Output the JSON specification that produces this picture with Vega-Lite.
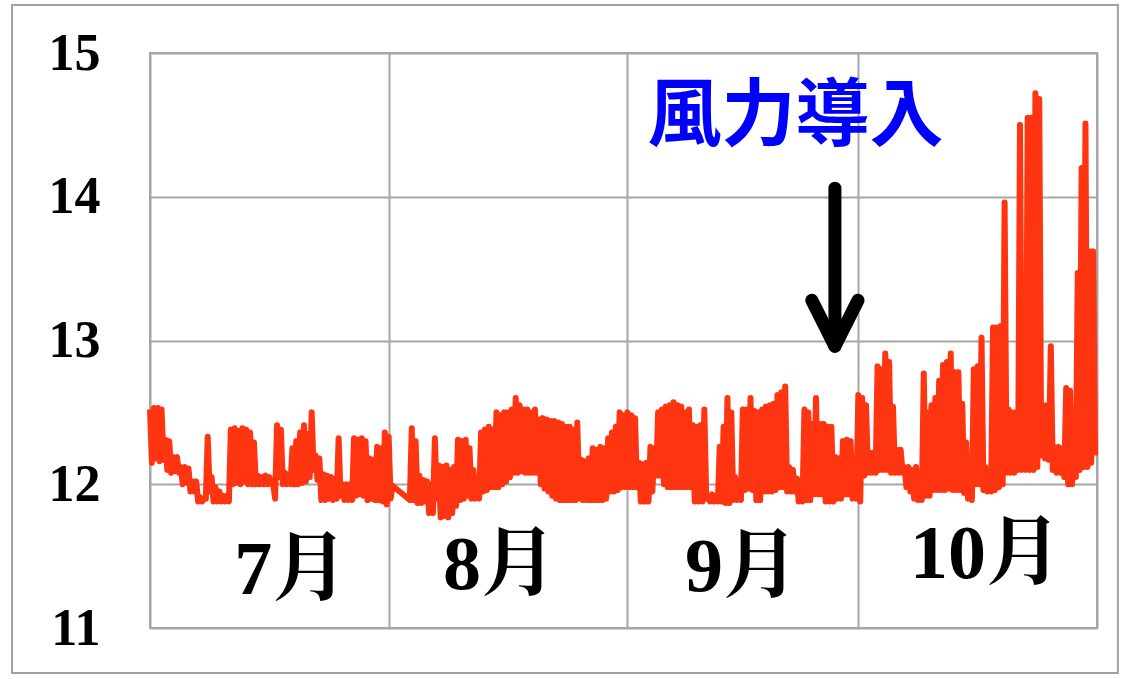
{
"$schema": "https://vega.github.io/schema/vega-lite/v6.json",
"width": 947, "height": 575,
"autosize": "none",
"padding": {"left": 150, "top": 53, "right": 31, "bottom": 51},
"background": "white",
"config": {"view": {"stroke": "#a6a6a6", "strokeWidth": 2}, "axis": {"gridColor": "#a6a6a6", "gridWidth": 2, "gridOpacity": 1}},
"encoding": {
"x": {"field": "h", "type": "quantitative", "scale": {"domain": [0, 2952], "nice": false, "zero": false},
"axis": {"values": [0, 744, 1488, 2208, 2952], "grid": true, "labels": false, "ticks": false, "domain": false, "title": null}},
"y": {"field": "v", "type": "quantitative", "scale": {"domain": [11, 15], "nice": false, "zero": false},
"axis": {"values": [11, 12, 13, 14, 15], "grid": true, "ticks": false, "domain": false, "title": null,
"labelFont": "Liberation Serif", "labelFontSize": 52, "labelFontWeight": "bold", "labelColor": "#000000", "labelPadding": 50}}
},
"layer": [
{
"data": {"values": [{"h": -430, "h2": 3017, "v": 15.334, "v2": 10.687}]},
"mark": {"type": "rect", "fill": null, "stroke": "#a0a0a0", "strokeWidth": 2, "clip": false},
"encoding": {
"x2": {"field": "h2"},
"y2": {"field": "v2"}
}
},
{
"data": {"values": [
{"h":0,"v":12.52},{"h":6,"v":12.15},{"h":12,"v":12.53},{"h":18,"v":12.18},{"h":24,"v":12.53},{"h":30,"v":12.16},{"h":36,"v":12.52},{"h":42,"v":12.17},
{"h":48,"v":12.31},{"h":54,"v":12.1},{"h":60,"v":12.3},{"h":66,"v":12.08},{"h":72,"v":12.19},{"h":78,"v":12.09},{"h":84,"v":12.19},{"h":90,"v":12.08},
{"h":96,"v":12.12},{"h":102,"v":12.0},{"h":108,"v":12.12},{"h":114,"v":12.01},{"h":120,"v":12.11},{"h":126,"v":11.95},{"h":132,"v":12.02},{"h":138,"v":11.95},
{"h":144,"v":12.02},{"h":150,"v":11.88},{"h":156,"v":11.91},{"h":162,"v":11.88},{"h":168,"v":11.9},{"h":174,"v":11.9},{"h":180,"v":12.33},{"h":186,"v":11.95},
{"h":192,"v":12.05},{"h":198,"v":11.88},{"h":204,"v":11.98},{"h":210,"v":11.88},{"h":216,"v":11.95},{"h":222,"v":11.88},{"h":228,"v":11.92},{"h":234,"v":11.88},
{"h":240,"v":11.92},{"h":246,"v":11.88},{"h":252,"v":12.38},{"h":258,"v":12.0},{"h":264,"v":12.39},{"h":270,"v":12.01},{"h":276,"v":12.37},{"h":282,"v":12.0},
{"h":288,"v":12.39},{"h":294,"v":12.02},{"h":300,"v":12.38},{"h":306,"v":12.0},{"h":312,"v":12.36},{"h":318,"v":12.0},{"h":324,"v":12.29},{"h":330,"v":12.0},
{"h":336,"v":12.06},{"h":342,"v":12.0},{"h":348,"v":12.05},{"h":354,"v":12.0},{"h":360,"v":12.06},{"h":366,"v":12.0},{"h":372,"v":12.05},{"h":378,"v":12.0},
{"h":384,"v":12.0},{"h":390,"v":11.9},{"h":396,"v":12.41},{"h":402,"v":12.05},{"h":408,"v":12.38},{"h":414,"v":12.0},{"h":420,"v":12.08},{"h":426,"v":12.0},
{"h":432,"v":12.07},{"h":438,"v":12.0},{"h":444,"v":12.25},{"h":450,"v":12.0},{"h":456,"v":12.3},{"h":462,"v":12.0},{"h":468,"v":12.36},{"h":474,"v":12.01},
{"h":480,"v":12.41},{"h":486,"v":12.02},{"h":492,"v":12.35},{"h":498,"v":12.05},{"h":504,"v":12.5},{"h":510,"v":12.1},{"h":516,"v":12.2},{"h":522,"v":12.03},
{"h":528,"v":12.18},{"h":534,"v":11.89},{"h":540,"v":12.07},{"h":546,"v":11.89},{"h":552,"v":12.06},{"h":558,"v":11.9},{"h":564,"v":12.05},{"h":570,"v":11.89},
{"h":576,"v":12.04},{"h":582,"v":11.9},{"h":588,"v":12.32},{"h":594,"v":11.92},{"h":600,"v":12.0},{"h":606,"v":11.89},{"h":612,"v":12.0},{"h":618,"v":11.89},
{"h":624,"v":12.0},{"h":630,"v":11.89},{"h":636,"v":12.32},{"h":642,"v":11.92},{"h":648,"v":12.31},{"h":654,"v":11.93},{"h":660,"v":12.32},{"h":666,"v":11.92},
{"h":672,"v":12.3},{"h":678,"v":11.89},{"h":684,"v":12.18},{"h":690,"v":11.9},{"h":696,"v":12.17},{"h":702,"v":11.89},{"h":708,"v":12.26},{"h":714,"v":11.89},
{"h":720,"v":12.25},{"h":726,"v":11.88},{"h":732,"v":12.36},{"h":738,"v":11.86},{"h":744,"v":12.33},{"h":750,"v":11.9},{"h":756,"v":11.99},{"h":810,"v":11.89},
{"h":816,"v":12.39},{"h":822,"v":11.89},{"h":828,"v":12.3},{"h":834,"v":11.87},{"h":840,"v":12.06},{"h":846,"v":11.87},{"h":852,"v":12.03},{"h":858,"v":11.88},
{"h":864,"v":12.02},{"h":870,"v":11.8},{"h":876,"v":12.0},{"h":882,"v":11.8},{"h":888,"v":12.32},{"h":894,"v":11.9},{"h":900,"v":12.13},{"h":906,"v":11.77},
{"h":912,"v":12.12},{"h":918,"v":11.78},{"h":924,"v":12.13},{"h":930,"v":11.77},{"h":936,"v":12.1},{"h":942,"v":11.8},{"h":948,"v":12.12},{"h":954,"v":11.85},
{"h":960,"v":12.31},{"h":966,"v":11.89},{"h":972,"v":12.3},{"h":978,"v":11.9},{"h":984,"v":12.31},{"h":990,"v":11.92},{"h":996,"v":12.25},{"h":1002,"v":11.9},
{"h":1008,"v":12.1},{"h":1014,"v":11.9},{"h":1020,"v":11.93},{"h":1026,"v":11.9},{"h":1032,"v":12.36},{"h":1038,"v":11.95},{"h":1044,"v":12.38},{"h":1050,"v":11.96},
{"h":1056,"v":12.4},{"h":1062,"v":11.98},{"h":1068,"v":12.38},{"h":1074,"v":11.98},{"h":1080,"v":12.5},{"h":1086,"v":11.98},{"h":1092,"v":12.48},{"h":1098,"v":12.0},
{"h":1104,"v":12.5},{"h":1110,"v":12.02},{"h":1116,"v":12.5},{"h":1122,"v":12.05},{"h":1128,"v":12.52},{"h":1134,"v":12.08},{"h":1140,"v":12.6},{"h":1146,"v":12.08},
{"h":1152,"v":12.55},{"h":1158,"v":12.09},{"h":1164,"v":12.52},{"h":1170,"v":12.08},{"h":1176,"v":12.52},{"h":1182,"v":12.08},{"h":1188,"v":12.5},{"h":1194,"v":12.08},
{"h":1200,"v":12.52},{"h":1206,"v":12.08},{"h":1212,"v":12.45},{"h":1218,"v":12.0},{"h":1224,"v":12.46},{"h":1230,"v":11.97},{"h":1236,"v":12.45},{"h":1242,"v":11.95},
{"h":1248,"v":12.44},{"h":1254,"v":11.92},{"h":1260,"v":12.44},{"h":1266,"v":11.9},{"h":1272,"v":12.43},{"h":1278,"v":11.89},{"h":1284,"v":12.42},{"h":1290,"v":11.89},
{"h":1296,"v":12.4},{"h":1302,"v":11.89},{"h":1308,"v":12.4},{"h":1314,"v":11.89},{"h":1320,"v":12.38},{"h":1326,"v":11.89},{"h":1332,"v":12.43},{"h":1338,"v":11.9},
{"h":1344,"v":12.17},{"h":1350,"v":11.89},{"h":1356,"v":12.16},{"h":1362,"v":11.89},{"h":1368,"v":12.18},{"h":1374,"v":11.89},{"h":1380,"v":12.25},{"h":1386,"v":11.89},
{"h":1392,"v":12.24},{"h":1398,"v":11.89},{"h":1404,"v":12.26},{"h":1410,"v":11.89},{"h":1416,"v":12.25},{"h":1422,"v":11.9},{"h":1428,"v":12.32},{"h":1434,"v":11.95},
{"h":1440,"v":12.36},{"h":1446,"v":11.95},{"h":1452,"v":12.4},{"h":1458,"v":11.96},{"h":1464,"v":12.5},{"h":1470,"v":11.98},{"h":1476,"v":12.48},{"h":1482,"v":11.98},
{"h":1488,"v":12.5},{"h":1494,"v":11.98},{"h":1500,"v":12.48},{"h":1506,"v":11.98},{"h":1512,"v":12.46},{"h":1518,"v":11.98},{"h":1524,"v":12.15},{"h":1530,"v":11.88},
{"h":1536,"v":12.14},{"h":1542,"v":11.88},{"h":1548,"v":12.15},{"h":1554,"v":11.88},{"h":1560,"v":12.26},{"h":1566,"v":11.95},{"h":1572,"v":12.25},{"h":1578,"v":12.06},
{"h":1584,"v":12.5},{"h":1590,"v":12.06},{"h":1596,"v":12.52},{"h":1602,"v":12.0},{"h":1608,"v":12.54},{"h":1614,"v":11.98},{"h":1620,"v":12.55},{"h":1626,"v":11.98},
{"h":1632,"v":12.57},{"h":1638,"v":11.98},{"h":1644,"v":12.55},{"h":1650,"v":11.98},{"h":1656,"v":12.54},{"h":1662,"v":11.98},{"h":1668,"v":12.5},{"h":1674,"v":11.98},
{"h":1680,"v":12.52},{"h":1686,"v":11.98},{"h":1692,"v":12.41},{"h":1698,"v":11.88},{"h":1704,"v":12.4},{"h":1710,"v":11.88},{"h":1716,"v":12.41},{"h":1722,"v":11.88},
{"h":1728,"v":12.52},{"h":1734,"v":11.9},{"h":1740,"v":11.92},{"h":1746,"v":11.88},{"h":1752,"v":11.93},{"h":1758,"v":11.88},{"h":1764,"v":11.92},{"h":1770,"v":11.88},
{"h":1776,"v":12.26},{"h":1782,"v":11.88},{"h":1788,"v":12.4},{"h":1794,"v":11.87},{"h":1800,"v":12.6},{"h":1806,"v":11.87},{"h":1812,"v":12.5},{"h":1818,"v":11.89},
{"h":1824,"v":12.05},{"h":1830,"v":11.89},{"h":1836,"v":12.0},{"h":1842,"v":11.89},{"h":1848,"v":12.52},{"h":1854,"v":11.96},{"h":1860,"v":12.52},{"h":1866,"v":11.97},
{"h":1872,"v":12.6},{"h":1878,"v":11.96},{"h":1884,"v":12.51},{"h":1890,"v":11.89},{"h":1896,"v":12.5},{"h":1902,"v":11.89},{"h":1908,"v":12.52},{"h":1914,"v":11.95},
{"h":1920,"v":12.54},{"h":1926,"v":11.95},{"h":1932,"v":12.55},{"h":1938,"v":11.95},{"h":1944,"v":12.56},{"h":1950,"v":11.96},{"h":1956,"v":12.62},{"h":1962,"v":11.98},
{"h":1968,"v":12.64},{"h":1974,"v":11.98},{"h":1980,"v":12.68},{"h":1986,"v":11.95},{"h":1992,"v":12.12},{"h":1998,"v":11.95},{"h":2004,"v":12.1},{"h":2010,"v":11.95},
{"h":2016,"v":12.04},{"h":2022,"v":11.88},{"h":2028,"v":12.03},{"h":2034,"v":11.88},{"h":2040,"v":12.52},{"h":2046,"v":11.89},{"h":2052,"v":12.5},{"h":2058,"v":11.89},
{"h":2064,"v":12.42},{"h":2070,"v":11.93},{"h":2076,"v":12.6},{"h":2082,"v":11.93},{"h":2088,"v":12.42},{"h":2094,"v":11.93},{"h":2100,"v":12.42},{"h":2106,"v":11.88},
{"h":2112,"v":12.4},{"h":2118,"v":11.88},{"h":2124,"v":12.4},{"h":2130,"v":11.88},{"h":2136,"v":12.19},{"h":2142,"v":11.9},{"h":2148,"v":12.18},{"h":2154,"v":11.9},
{"h":2160,"v":12.3},{"h":2166,"v":11.93},{"h":2172,"v":12.31},{"h":2178,"v":11.93},{"h":2184,"v":12.3},{"h":2190,"v":11.9},{"h":2196,"v":12.12},{"h":2202,"v":11.9},
{"h":2208,"v":12.62},{"h":2214,"v":11.88},{"h":2220,"v":12.6},{"h":2226,"v":12.06},{"h":2232,"v":12.55},{"h":2238,"v":12.08},{"h":2244,"v":12.22},{"h":2250,"v":12.08},
{"h":2256,"v":12.22},{"h":2262,"v":12.08},{"h":2268,"v":12.82},{"h":2274,"v":12.1},{"h":2280,"v":12.8},{"h":2286,"v":12.1},{"h":2292,"v":12.91},{"h":2298,"v":12.1},
{"h":2304,"v":12.85},{"h":2310,"v":12.08},{"h":2316,"v":12.54},{"h":2322,"v":12.08},{"h":2328,"v":12.24},{"h":2334,"v":12.08},{"h":2340,"v":12.24},{"h":2346,"v":12.08},
{"h":2352,"v":12.12},{"h":2358,"v":11.98},{"h":2364,"v":12.12},{"h":2370,"v":11.95},{"h":2376,"v":12.1},{"h":2382,"v":11.9},{"h":2388,"v":12.12},{"h":2394,"v":11.89},
{"h":2400,"v":11.95},{"h":2406,"v":11.89},{"h":2412,"v":12.77},{"h":2418,"v":11.92},{"h":2424,"v":12.5},{"h":2430,"v":11.92},{"h":2436,"v":12.55},{"h":2442,"v":11.96},
{"h":2448,"v":12.6},{"h":2454,"v":11.96},{"h":2460,"v":12.72},{"h":2466,"v":11.96},{"h":2472,"v":12.83},{"h":2478,"v":11.96},{"h":2484,"v":12.85},{"h":2490,"v":11.97},
{"h":2496,"v":12.91},{"h":2502,"v":11.96},{"h":2508,"v":12.78},{"h":2514,"v":11.96},{"h":2520,"v":12.78},{"h":2526,"v":11.96},{"h":2532,"v":12.56},{"h":2538,"v":11.94},
{"h":2544,"v":12.29},{"h":2550,"v":11.9},{"h":2556,"v":12.1},{"h":2562,"v":11.89},{"h":2568,"v":12.8},{"h":2574,"v":12.0},{"h":2580,"v":12.82},{"h":2586,"v":12.0},
{"h":2592,"v":13.02},{"h":2598,"v":11.96},{"h":2604,"v":12.12},{"h":2610,"v":11.95},{"h":2616,"v":12.1},{"h":2622,"v":11.95},{"h":2628,"v":13.09},{"h":2634,"v":11.96},
{"h":2640,"v":13.09},{"h":2646,"v":11.98},{"h":2652,"v":13.1},{"h":2658,"v":12.0},{"h":2664,"v":13.96},{"h":2670,"v":12.08},{"h":2676,"v":12.52},{"h":2682,"v":12.08},
{"h":2688,"v":12.5},{"h":2694,"v":12.08},{"h":2700,"v":12.5},{"h":2706,"v":12.1},{"h":2712,"v":14.5},{"h":2718,"v":12.1},{"h":2724,"v":12.2},{"h":2730,"v":12.1},
{"h":2736,"v":14.55},{"h":2742,"v":12.1},{"h":2748,"v":14.55},{"h":2754,"v":12.1},{"h":2760,"v":14.72},{"h":2766,"v":12.12},{"h":2772,"v":14.68},{"h":2778,"v":12.2},
{"h":2784,"v":12.55},{"h":2790,"v":12.18},{"h":2796,"v":12.55},{"h":2802,"v":12.17},{"h":2808,"v":12.96},{"h":2814,"v":12.1},{"h":2820,"v":12.26},{"h":2826,"v":12.08},
{"h":2832,"v":12.26},{"h":2838,"v":12.08},{"h":2844,"v":12.25},{"h":2850,"v":12.05},{"h":2856,"v":12.67},{"h":2862,"v":12.0},{"h":2868,"v":12.65},{"h":2874,"v":12.0},
{"h":2880,"v":12.2},{"h":2886,"v":12.05},{"h":2892,"v":13.47},{"h":2898,"v":12.1},{"h":2904,"v":14.2},{"h":2910,"v":12.12},{"h":2916,"v":14.51},{"h":2922,"v":12.12},
{"h":2928,"v":13.62},{"h":2934,"v":12.15},{"h":2940,"v":13.62},{"h":2946,"v":12.2}
]},
"mark": {"type": "line", "color": "#ff3410", "strokeWidth": 6, "strokeJoin": "round"}
},
{
"data": {"values": [
{"g": "s", "p": 1, "h": 2135, "v": 14.06},
{"g": "s", "p": 2, "h": 2135, "v": 12.96},
{"g": "c", "p": 1, "h": 2063, "v": 13.28},
{"g": "c", "p": 2, "h": 2135, "v": 12.96},
{"g": "c", "p": 3, "h": 2207, "v": 13.28}
]},
"mark": {"type": "line", "color": "#000000", "strokeWidth": 13, "strokeCap": "round", "strokeJoin": "round"},
"encoding": {
"detail": {"field": "g"},
"order": {"field": "p"}
}
},
{
"data": {"values": [
{"m": "7月", "h": 440, "v": 11.4},
{"m": "8月", "h": 1091, "v": 11.43},
{"m": "9月", "h": 1845, "v": 11.42},
{"m": "10月", "h": 2606, "v": 11.51}
]},
"mark": {"type": "text", "font": "Liberation Serif, Noto Serif CJK JP, Noto Sans CJK JP", "fontSize": 76, "fontWeight": "bold", "color": "#000000", "align": "center", "baseline": "middle"},
"encoding": {
"text": {"field": "m"}
}
},
{
"data": {"values": [{"t": "風力導入", "h": 2012, "v": 14.55}]},
"mark": {"type": "text", "font": "Noto Sans CJK JP", "fontSize": 74, "fontWeight": "bold", "color": "#0000ff", "align": "center", "baseline": "middle"},
"encoding": {
"text": {"field": "t"}
}
}
]
}
